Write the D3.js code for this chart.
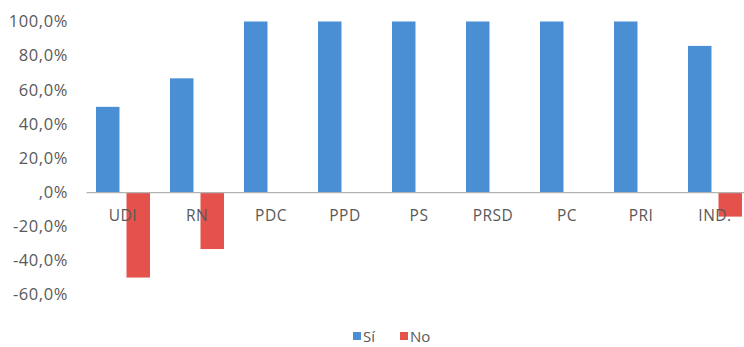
<!DOCTYPE html>
<html>
<head>
<meta charset="utf-8">
<script src="https://cdn.jsdelivr.net/npm/d3@7"></script>
<style>
  html, body { margin: 0; padding: 0; background: #fff; }
  svg { display: block; }
  text { font-family: "Open Sans", Lato, sans-serif; fill: #595959; }
</style>
</head>
<body>
<svg id="chart" width="744" height="347"></svg>
<script>
// Party categories and share of votes "Sí" / "No" (No shown as negative)
const categories = ["UDI", "RN", "PDC", "PPD", "PS", "PRSD", "PC", "PRI", "IND."];
const siValues = [50.0, 66.7, 100, 100, 100, 100, 100, 100, 85.7];
const noValues = [-50.0, -33.3, 0, 0, 0, 0, 0, 0, -14.3];
const yTicks = [-60, -40, -20, 0, 20, 40, 60, 80, 100];
const seriesNames = ["Sí", "No"];
const seriesColors = ["#4a8fd4", "#e5514b"];

const svg = d3.select("#chart");
const font = "'Open Sans', Lato, sans-serif";

const x = d3.scaleBand().domain(categories).range([86, 752]).paddingInner(0).paddingOuter(0);
const sub = d3.scaleBand().domain(seriesNames).range([10, x.bandwidth() - 10]).paddingInner(0.23);
const y = d3.scaleLinear().domain([-60, 100]).range([294.6, 21.5]);

// Spanish-style percent labels: comma decimal, plain hyphen, ",0%" at zero
const tickLabel = v => (v === 0 ? ",0%" : (v < 0 ? "-" : "") + Math.abs(v).toFixed(1).replace(".", ",") + "%");

// Y axis labels only (no axis line, no gridlines)
const yAxis = d3.axisLeft(y).tickValues(yTicks).tickFormat(tickLabel).tickSize(0).tickPadding(0);
const gy = svg.append("g").attr("transform", "translate(68,0)").call(yAxis);
gy.select(".domain").remove();
gy.selectAll("text")
  .attr("font-size", 16.5)
  .attr("font-family", font)
  .attr("letter-spacing", 0.6)
  .attr("fill", "#555");

// Bars
const rows = categories.map((c, i) => ({ c, vals: [siValues[i], noValues[i]] }));
const groups = svg.append("g").selectAll("g").data(rows).join("g")
  .attr("transform", d => `translate(${x(d.c)},0)`);
groups.selectAll("rect")
  .data(d => d.vals.map((v, k) => ({ v, k })))
  .join("rect")
  .attr("x", d => sub(seriesNames[d.k]))
  .attr("width", sub.bandwidth())
  .attr("y", d => Math.min(y(d.v), y(0)))
  .attr("height", d => Math.abs(y(d.v) - y(0)))
  .attr("fill", d => seriesColors[d.k]);

// Zero axis line with category labels
const xAxis = d3.axisBottom(x).tickSize(0).tickPadding(18);
const gx = svg.append("g").attr("transform", `translate(0,${y(0)})`).call(xAxis);
gx.select(".domain").attr("stroke", "#b3b3b3").attr("stroke-width", 1.2);
gx.selectAll("text")
  .attr("font-size", 15.5)
  .attr("font-family", font)
  .attr("letter-spacing", 0.5)
  .attr("fill", "#555");

// Legend
const legend = svg.append("g").attr("transform", "translate(353,332)");
const items = legend.selectAll("g").data(seriesNames).join("g")
  .attr("transform", (d, i) => `translate(${i * 47},0)`);
items.append("rect").attr("width", 8).attr("height", 8).attr("fill", (d, i) => seriesColors[i]);
items.append("text").attr("x", 10).attr("y", 9.5).attr("font-size", 15).attr("fill", "#555").text(d => d);
</script>
</body>
</html>
